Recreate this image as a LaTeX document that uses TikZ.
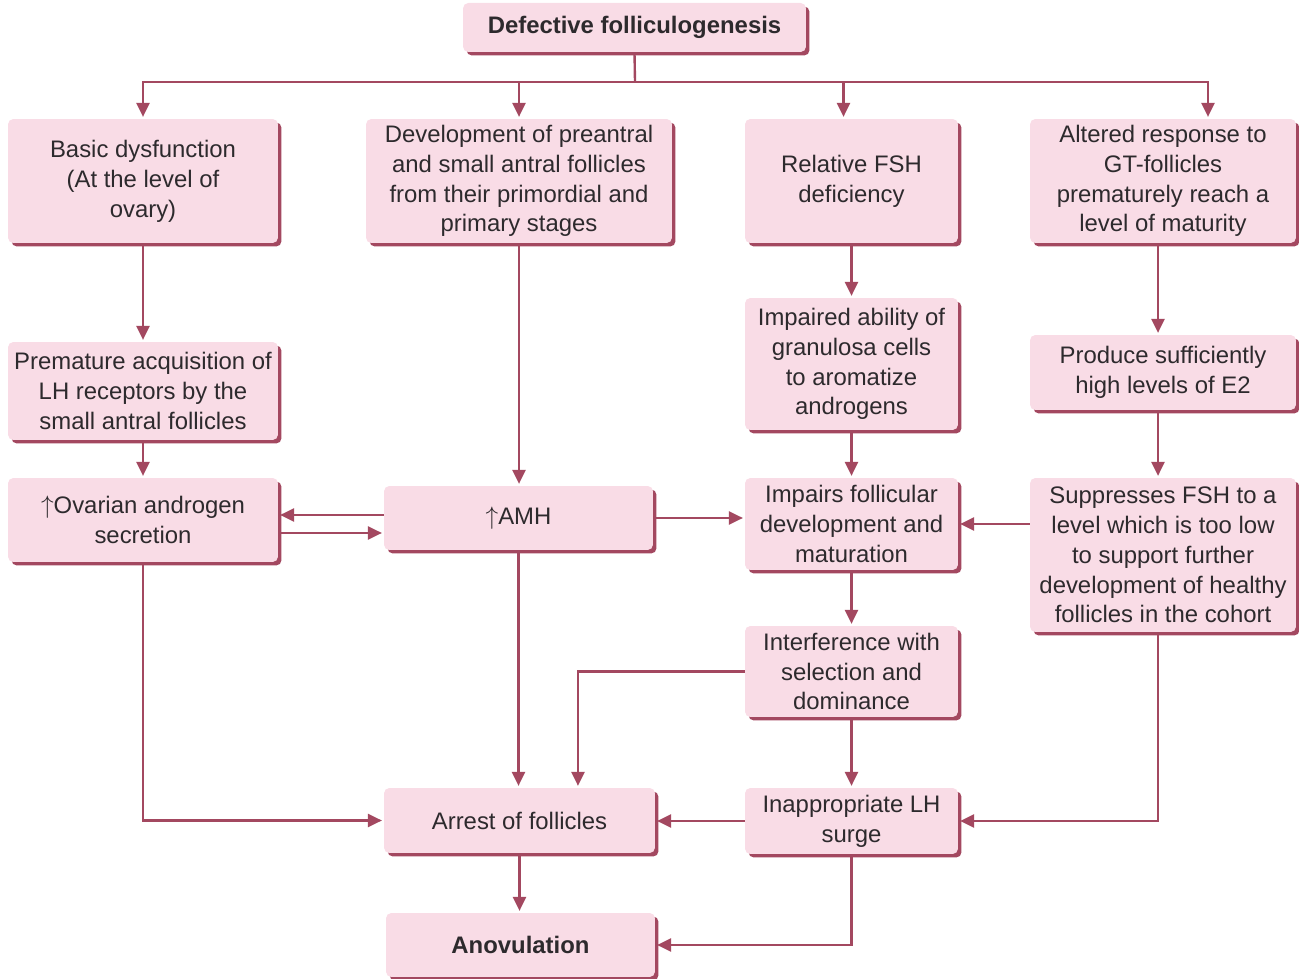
\documentclass[tikz,border=0pt]{standalone}
\usepackage{fontspec}
\setmainfont{Liberation Sans}
\usepackage{xcolor}
\usepackage{tikz}
\usetikzlibrary{arrows.meta,shadows}
\definecolor{boxpink}{RGB}{249,220,230}
\definecolor{wine}{RGB}{163,72,96}
\definecolor{inkgray}{RGB}{45,42,45}

\begin{document}
\begin{tikzpicture}[
  x=0.02cm, y=-0.02cm,
  font=\fontsize{13.6}{17}\selectfont,
  box/.style={rectangle, rounded corners=3pt, fill=boxpink, draw=none,
              align=center, inner sep=2pt, text=inkgray,
              drop shadow={shadow xshift=0.07cm, shadow yshift=-0.07cm,
                           fill=wine, opacity=1}},
  line/.style={wine, line width=1.35pt},
  arr/.style={line, -{Triangle[length=0.28cm,width=0.26cm]}, shorten >=1pt}
]
\useasboundingbox (0,0) rectangle (1299,979);
% top
\node[box, minimum width=6.86cm, minimum height=0.98cm, font=\fontsize{13.6}{17}\selectfont\bfseries] (ttl) at (634.5,27.5) {Defective folliculogenesis};
% first row
\node[box, minimum width=5.4cm, minimum height=2.48cm] (dysf) at (143,181) {Basic dysfunction\\(At the level of\\ovary)};
\node[box, minimum width=6.12cm, minimum height=2.48cm] (prea) at (519,181) {Development of preantral\\and small antral follicles\\from their primordial and\\primary stages};
\node[box, minimum width=4.26cm, minimum height=2.48cm] (fsh) at (851.5,181) {Relative FSH\\deficiency};
\node[box, minimum width=5.32cm, minimum height=2.48cm] (resp) at (1163,181) {Altered response to\\GT-follicles\\prematurely reach a\\level of maturity};
% middle rows
\node[box, minimum width=5.4cm, minimum height=1.96cm] (lhr) at (143,391) {Premature acquisition of\\LH receptors by the\\small antral follicles};
\node[box, minimum width=4.26cm, minimum height=2.64cm] (gran) at (851.5,364) {Impaired ability of\\granulosa cells\\to aromatize\\androgens};
\node[box, minimum width=5.32cm, minimum height=1.5cm] (e2) at (1163,372.5) {Produce sufficiently\\high levels of E2};
\node[box, minimum width=5.4cm, minimum height=1.68cm] (andr) at (143,520) {$\uparrow$Ovarian androgen\\secretion};
\node[box, minimum width=5.38cm, minimum height=1.28cm] (amh) at (518.5,518) {$\uparrow$AMH};
\node[box, minimum width=4.26cm, minimum height=1.84cm] (impf) at (851.5,524) {Impairs follicular\\development and\\maturation};
\node[box, minimum width=5.32cm, minimum height=3.08cm] (supp) at (1163,555) {Suppresses FSH to a\\level which is too low\\to support further\\development of healthy\\follicles in the cohort};
\node[box, minimum width=4.26cm, minimum height=1.82cm] (sel) at (851.5,671.5) {Interference with\\selection and\\dominance};
% bottom
\node[box, minimum width=5.42cm, minimum height=1.3cm] (arst) at (519.5,820.5) {Arrest of follicles};
\node[box, minimum width=4.26cm, minimum height=1.32cm] (lhs) at (851.5,821) {Inappropriate LH\\surge};
\node[box, minimum width=5.38cm, minimum height=1.28cm, font=\fontsize{13.6}{17}\selectfont\bfseries] (anov) at (520.5,945) {Anovulation};

% branching from the top box
\coordinate (br) at (635,82);
\draw[line] (ttl.south) -- (br);
\draw[arr] (br) -| (dysf.north);
\draw[arr] (br) -| (prea.north);
\draw[arr] (br) -| ([xshift=-0.16cm]fsh.north);
\draw[arr] (br) -| ([xshift=0.9cm]resp.north);
% columns
\draw[arr] (dysf) -- (lhr);
\draw[arr] (lhr) -- (andr);
\draw[arr] (prea.south) -- (prea.south |- amh.north);
\draw[arr] (fsh) -- (gran);
\draw[arr] (gran) -- (impf);
\draw[arr] (impf) -- (sel);
\draw[arr] (sel) -- (lhs);
\draw[arr] ([xshift=-0.1cm]resp.south) -- ([xshift=-0.1cm]e2.north);
\draw[arr] ([xshift=-0.1cm]e2.south) -- ([xshift=-0.1cm]supp.north);
% cross links
\coordinate (a1) at ([yshift=0.06cm]amh.west);
\coordinate (a2) at ([yshift=-0.26cm]andr.east);
\draw[arr] (a1) -- (a1 -| andr.east);
\draw[arr] (a2) -- (a2 -| amh.west);
\draw[arr] (amh.east) -- (amh.east -| impf.west);
\draw[arr] (supp.west |- impf.east) -- (impf.east);
% towards arrest
\draw[arr] (andr.south) |- (arst.west);
\draw[arr] (amh.south) -- (amh.south |- arst.north);
\draw[arr] (sel.west) -| ([xshift=1.17cm]arst.north);
\draw[arr] (lhs.west) -- (lhs.west -| arst.east);
\draw[arr] ([xshift=-0.1cm]supp.south) |- (lhs.east);
% anovulation
\draw[arr] (arst.south) -- (arst.south |- anov.north);
\draw[arr] (lhs.south) |- (anov.east);
\end{tikzpicture}
\end{document}
